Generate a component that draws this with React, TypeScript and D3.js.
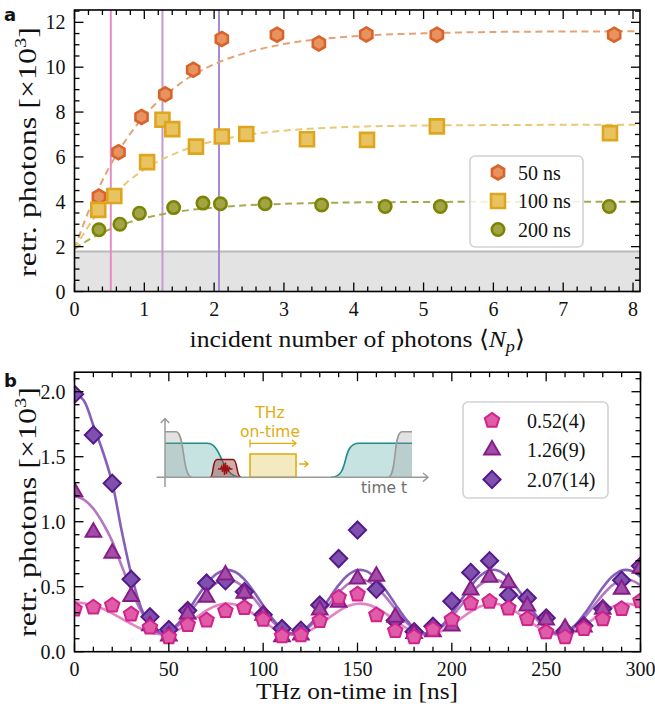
import React from "react";
import * as d3 from "d3";

const SERIF = "'Liberation Serif','Times New Roman',serif";
const SANS = "'DejaVu Sans','Open Sans',sans-serif";

// ---------------- panel a: data ----------------
const legendA = ["50 ns", "100 ns", "200 ns"];
const photons50 = [0.35, 0.63, 0.96, 1.3, 1.7, 2.11, 2.9, 3.5, 4.18, 5.19, 7.73];
const retr50 = [4.23, 6.21, 7.78, 8.79, 9.89, 11.26, 11.45, 11.06, 11.46, 11.45, 11.45];
const photons100 = [0.34, 0.57, 1.04, 1.26, 1.4, 1.74, 2.11, 2.46, 3.33, 4.19, 5.19, 7.67];
const retr100 = [3.64, 4.26, 5.77, 7.66, 7.24, 6.46, 6.91, 7.02, 6.79, 6.76, 7.36, 7.06];
const photons200 = [0.35, 0.65, 0.93, 1.42, 1.84, 2.09, 2.73, 3.54, 4.45, 5.24, 7.66];
const retr200 = [2.75, 3.0, 3.49, 3.74, 3.94, 3.91, 3.91, 3.86, 3.79, 3.79, 3.79];
// fitted saturation curves
const fitPhotons = [0, 0.25, 0.5, 0.75, 1, 1.5, 2, 2.5, 3, 4, 5, 6, 7, 8.1];
const fit50 = [1.9, 3.94, 5.55, 6.82, 7.83, 9.24, 10.13, 10.68, 11.03, 11.38, 11.51, 11.57, 11.59, 11.6];
const fit100 = [1.9, 3.14, 4.11, 4.86, 5.44, 6.23, 6.71, 7.0, 7.17, 7.34, 7.4, 7.42, 7.43, 7.43];
const fit200 = [1.9, 2.39, 2.76, 3.05, 3.27, 3.57, 3.74, 3.85, 3.91, 3.97, 3.99, 4.0, 4.0, 4.0];
const markedPhotons = [0.52, 1.26, 2.07];
const backgroundLevel = 1.78;
const xTicksA = [0, 1, 2, 3, 4, 5, 6, 7, 8];
const yTicksA = [0, 2, 4, 6, 8, 10, 12];

// ---------------- panel b: data ----------------
const legendB = ["0.52(4)", "1.26(9)", "2.07(14)"];
const onTime = [0, 10, 20, 30, 40, 50, 60, 70, 80, 90, 100, 110, 120, 130, 140, 150, 160, 170, 180, 190, 200, 210, 220, 230, 240, 250, 260, 270, 280, 290, 300];
const retrLow = [0.326, 0.341, 0.357, 0.288, 0.187, 0.113, 0.207, 0.242, 0.314, 0.338, 0.247, 0.12, 0.128, 0.238, 0.417, 0.442, 0.282, 0.16, 0.112, 0.17, 0.247, 0.372, 0.385, 0.334, 0.253, 0.15, 0.112, 0.176, 0.25, 0.33, 0.39];
const retrMid = [1.231, 0.918, 0.757, 0.425, 0.2, 0.12, 0.29, 0.418, 0.59, 0.45, 0.28, 0.115, 0.128, 0.32, 0.38, 0.56, 0.58, 0.265, 0.14, 0.154, 0.198, 0.475, 0.572, 0.531, 0.351, 0.244, 0.18, 0.19, 0.326, 0.48, 0.641];
const retrHigh = [1.98, 1.667, 1.295, 0.557, 0.268, 0.17, 0.316, 0.528, 0.545, 0.462, 0.285, 0.178, 0.165, 0.359, 0.716, 0.936, 0.48, 0.24, 0.154, 0.195, 0.388, 0.61, 0.7, 0.436, 0.413, 0.26, 0.16, 0.2, 0.33, 0.55, 0.66];
const fitTime = d3.range(0, 301, 5);
const fitLow = [0.38, 0.372, 0.355, 0.33, 0.295, 0.255, 0.215, 0.178, 0.15, 0.135,
  0.139, 0.168, 0.214, 0.267, 0.317, 0.353, 0.37, 0.363, 0.334, 0.288,
  0.235, 0.185, 0.148, 0.131, 0.136, 0.165, 0.21, 0.262, 0.312, 0.351,
  0.369, 0.364, 0.336, 0.293, 0.241, 0.19, 0.151, 0.131, 0.135, 0.162,
  0.206, 0.257, 0.308, 0.348, 0.368, 0.365, 0.339, 0.296, 0.246, 0.195,
  0.154, 0.132, 0.134, 0.159, 0.201, 0.251, 0.303, 0.345, 0.367, 0.366, 0.344];
const fitMid = [1.2, 1.17, 1.1, 0.99, 0.85, 0.66, 0.48, 0.32, 0.215, 0.16,
  0.15, 0.202, 0.283, 0.375, 0.462, 0.526, 0.554, 0.542, 0.491, 0.412,
  0.319, 0.232, 0.167, 0.136, 0.146, 0.197, 0.275, 0.366, 0.454, 0.521,
  0.553, 0.545, 0.496, 0.42, 0.329, 0.24, 0.172, 0.138, 0.144, 0.191,
  0.267, 0.357, 0.446, 0.516, 0.552, 0.547, 0.5, 0.426, 0.338, 0.249,
  0.177, 0.139, 0.142, 0.185, 0.259, 0.348, 0.438, 0.51, 0.55, 0.549, 0.51];
const fitHigh = [2.0, 1.93, 1.74, 1.54, 1.3, 0.93, 0.6, 0.35, 0.2, 0.145,
  0.158, 0.218, 0.312, 0.42, 0.522, 0.596, 0.629, 0.615, 0.556, 0.463,
  0.355, 0.253, 0.177, 0.142, 0.153, 0.212, 0.303, 0.41, 0.512, 0.59,
  0.628, 0.618, 0.561, 0.472, 0.366, 0.263, 0.183, 0.143, 0.15, 0.205,
  0.294, 0.399, 0.503, 0.584, 0.627, 0.621, 0.566, 0.48, 0.377, 0.273,
  0.189, 0.145, 0.148, 0.199, 0.285, 0.388, 0.494, 0.578, 0.625, 0.623, 0.577];
const xTicksB = [0, 50, 100, 150, 200, 250, 300];
const yTicksB = [0, 0.5, 1.0, 1.5, 2.0];

// ---------------- scales ----------------
const xA = d3.scaleLinear().domain([0, 8.1]).range([74.5, 640]);
const yA = d3.scaleLinear().domain([0, 12.55]).range([291.5, 10]);
const xB = d3.scaleLinear().domain([0, 300]).range([74.5, 640.5]);
const yB = d3.scaleLinear().domain([0, 2.15]).range([651.7, 372.2]);

// ---------------- marker shapes ----------------
function poly(n: number, R: number, rot = -90): string {
  const pts = d3.range(n).map((k) => {
    const a = ((rot + (k * 360) / n) * Math.PI) / 180;
    return [R * Math.cos(a), R * Math.sin(a)];
  });
  return "M" + pts.map((p) => p[0].toFixed(2) + "," + p[1].toFixed(2)).join("L") + "Z";
}
const SHAPES: Record<string, string> = {
  hex: poly(6, 7),
  square: "M-7,-7L7,-7L7,7L-7,7Z",
  circle: d3.symbol().type(d3.symbolCircle).size(Math.PI * 6.2 * 6.2)() as string,
  pent: poly(5, 7.6),
  tri: poly(3, 9),
  diam: "M0,-8.6L8.6,0L0,8.6L-8.6,0Z",
};

function Marker({ x, y, shape, fill, stroke, sw }: any) {
  return (
    <path d={SHAPES[shape]} transform={`translate(${x},${y})`} fill={fill} stroke={stroke}
      strokeWidth={sw} strokeLinejoin="miter" />
  );
}

// ---------------- frame & ticks ----------------
function Frame({ xs, ys, xMajor, xMinor, yMajor, yMinor, xFmt, yFmt, xLabelY }: any) {
  const [x0, x1] = xs.range();
  const [y0, y1] = ys.range();
  const MAJ = 9, MIN = 5;
  const lines: any[] = [];
  xMajor.forEach((v: number, i: number) => {
    const x = xs(v);
    lines.push(<line key={"xb" + i} x1={x} x2={x} y1={y0} y2={y0 - MAJ} />);
    lines.push(<line key={"xt" + i} x1={x} x2={x} y1={y1} y2={y1 + MAJ} />);
  });
  xMinor.forEach((v: number, i: number) => {
    const x = xs(v);
    lines.push(<line key={"xmb" + i} x1={x} x2={x} y1={y0} y2={y0 - MIN} />);
    lines.push(<line key={"xmt" + i} x1={x} x2={x} y1={y1} y2={y1 + MIN} />);
  });
  yMajor.forEach((v: number, i: number) => {
    const y = ys(v);
    lines.push(<line key={"yl" + i} x1={x0} x2={x0 + MAJ} y1={y} y2={y} />);
    lines.push(<line key={"yr" + i} x1={x1} x2={x1 - MAJ} y1={y} y2={y} />);
  });
  yMinor.forEach((v: number, i: number) => {
    const y = ys(v);
    lines.push(<line key={"yml" + i} x1={x0} x2={x0 + MIN} y1={y} y2={y} />);
    lines.push(<line key={"ymr" + i} x1={x1} x2={x1 - MIN} y1={y} y2={y} />);
  });
  return (
    <g>
      <g stroke="#000" strokeWidth={1.3}>{lines}</g>
      <rect x={x0} y={y1} width={x1 - x0} height={y0 - y1} fill="none" stroke="#000" strokeWidth={1.6} />
      <g fontFamily={SERIF} fontSize={20} fill="#111">
        {xMajor.map((v: number, i: number) => (
          <text key={"tx" + i} x={xs(v)} y={xLabelY} textAnchor="middle">{xFmt(v)}</text>
        ))}
        {yMajor.map((v: number, i: number) => (
          <text key={"ty" + i} x={x0 - 9} y={ys(v) + 7} textAnchor="end">{yFmt(v)}</text>
        ))}
      </g>
    </g>
  );
}

function minors(lo: number, hi: number, step: number, majors: number[]) {
  return d3.range(lo, hi + 1e-9, step).filter((v) => !majors.some((m) => Math.abs(m - v) < 1e-6));
}

// ---------------- inset schematic ----------------
function Inset() {
  const gold = "#e0ad10";
  return (
    <g>
      {/* teal pulses */}
      <path d="M165,477.3 L165,443.3 L207,443.3 C223,443.3 220,477.3 241,477.3 Z" fill="#c6e3e2" />
      <path d="M165,443.3 L207,443.3 C223,443.3 220,477.3 241,477.3" fill="none" stroke="#1a8c8a" strokeWidth={1.6} />
      <path d="M331,477.3 C351,477.3 340,443.3 359,443.3 L412,443.3 L412,477.3 Z" fill="#c6e3e2" />
      <path d="M331,477.3 C351,477.3 340,443.3 359,443.3 L412,443.3" fill="none" stroke="#1a8c8a" strokeWidth={1.6} />
      {/* gray pulses */}
      <path d="M165,477.3 L165,431.7 L176,431.7 C185,431.7 182,477.3 192,477.3 Z" fill="rgba(150,150,150,0.28)" />
      <path d="M165,431.7 L176,431.7 C185,431.7 182,477.3 192,477.3" fill="none" stroke="#9a9a9a" strokeWidth={1.6} />
      <path d="M388,477.3 C397,477.3 393,431.7 402,431.7 L412,431.7 L412,477.3 Z" fill="rgba(150,150,150,0.28)" />
      <path d="M388,477.3 C397,477.3 393,431.7 402,431.7 L412,431.7" fill="none" stroke="#9a9a9a" strokeWidth={1.6} />
      {/* red pulse */}
      <path d="M210,477.3 C214,477.3 212,459.5 217,459.5 L233,459.5 C238,459.5 236,477.3 241,477.3 Z"
        fill="rgba(150,70,70,0.45)" stroke="#8c1212" strokeWidth={1.5} />
      <path d="M218,469 L220.5,469 L221.5,466.5 L222.5,472 L223.5,463.5 L224.5,475 L225.5,462.5 L226.5,474 L227.5,465 L228.5,471.5 L229.5,467.5 L230.5,469 L232.5,469"
        fill="none" stroke="#a01010" strokeWidth={1.3} />
      {/* THz box */}
      <rect x={250} y={454} width={46} height={23.3} fill="#f4eac2" stroke={gold} strokeWidth={1.6} />
      <path d="M299,464 L308,464 M304.5,461 L308,464 L304.5,467" fill="none" stroke={gold} strokeWidth={1.3} />
      <path d="M250,443.3 L296,443.3 M250,439.5 L250,447.5 M292,440 L296,443.3 L292,446.6" fill="none" stroke={gold} strokeWidth={1.3} />
      <text x={270} y={417.5} textAnchor="middle" fontFamily={SANS} fontSize={15.5} fill={gold}>THz</text>
      <text x={270} y={437} textAnchor="middle" fontFamily={SANS} fontSize={15.5} fill={gold}>on-time</text>
      {/* axes */}
      <path d="M165,487 L165,418.5 M160.8,423 L165,418.5 L169.2,423" fill="none" stroke="#9a9a9a" strokeWidth={1.5} />
      <path d="M156.5,477.3 L428,477.3 M423,473 L428,477.3 L423,481.6" fill="none" stroke="#9a9a9a" strokeWidth={1.5} />
      <text x={361} y={493} fontFamily={SANS} fontSize={15.5} fill="#6e6e6e">time t</text>
    </g>
  );
}

export default function App() {
  const lineA = (xsA: number[], ysA: number[]) =>
    d3.line<number>().x((_, i) => xA(xsA[i])).y((v) => yA(v)).curve(d3.curveMonotoneX)(ysA) as string;
  const lineB = (ysB: number[]) =>
    d3.line<number>().x((_, i) => xB(fitTime[i])).y((v) => yB(v)).curve(d3.curveCatmullRom)(ysB) as string;

  const seriesA = [
    { xs: photons50, ys: retr50, fit: fit50, shape: "hex", fill: "#e6935f", stroke: "#d9642b", line: "#e5a274" },
    { xs: photons100, ys: retr100, fit: fit100, shape: "square", fill: "#e9c262", stroke: "#dea61f", line: "#eac878" },
    { xs: photons200, ys: retr200, fit: fit200, shape: "circle", fill: "#a2a545", stroke: "#7c8404", line: "#a7a94f" },
  ];
  const vColors = ["#e58cc7", "#c39bce", "#a88bd0"];

  const seriesB = [
    { ys: retrLow, fit: fitLow, shape: "pent", fill: "#e05ca8", stroke: "#d0238c", line: "#e27abf" },
    { ys: retrMid, fit: fitMid, shape: "tri", fill: "#a24ea8", stroke: "#871c88", line: "#ad6cbd" },
    { ys: retrHigh, fit: fitHigh, shape: "diam", fill: "#7f50ae", stroke: "#54198a", line: "#7b52b2" },
  ];

  const xMinA = minors(0, 8.1, 0.2, xTicksA);
  const yMinA = minors(0, 12.5, 0.5, yTicksA);
  const xMinB = minors(0, 300, 10, xTicksB);
  const yMinB = minors(0, 2.1, 0.1, yTicksB);

  const yLabel = (cy: number) => (
    <text transform={`translate(36,${cy}) rotate(-90)`} textAnchor="middle" fontFamily={SERIF} fontSize={25} fill="#111"
      textLength={250} lengthAdjust="spacingAndGlyphs">
      retr. photons [×10<tspan fontSize={16} dy={-10}>3</tspan><tspan dy={10}>]</tspan>
    </text>
  );

  return (
    <svg width={655} height={708} viewBox="0 0 655 708"
      style={{ position: "absolute", left: 0, top: 0, background: "#fff" }}>
      <defs>
        <clipPath id="clipA"><rect x={74.5} y={10} width={565.5} height={281.5} /></clipPath>
        <clipPath id="clipB"><rect x={74.5} y={372.2} width={566} height={279.5} /></clipPath>
      </defs>
      <rect width={655} height={708} fill="#fff" />

      {/* ---------- panel a ---------- */}
      <g clipPath="url(#clipA)">
        <rect x={xA(0)} y={yA(backgroundLevel)} width={xA(8.1) - xA(0)} height={yA(0) - yA(backgroundLevel)} fill="#e3e3e3" />
        <line x1={xA(0)} x2={xA(8.1)} y1={yA(backgroundLevel)} y2={yA(backgroundLevel)} stroke="#b9b9b9" strokeWidth={2} />
        {markedPhotons.map((v, i) => (
          <line key={"v" + i} x1={xA(v)} x2={xA(v)} y1={yA(0)} y2={yA(12.55)} stroke={vColors[i]} strokeWidth={2} />
        ))}
        {seriesA.map((s, si) => (
          <g key={"sa" + si}>
            <path d={lineA(fitPhotons, s.fit)} fill="none" stroke={s.line} strokeWidth={2} strokeDasharray="7 4.5" />
            {s.xs.map((v, i) => (
              <Marker key={i} x={xA(v)} y={yA(s.ys[i])} shape={s.shape} fill={s.fill} stroke={s.stroke} sw={2.6} />
            ))}
          </g>
        ))}
      </g>
      <Frame xs={xA} ys={yA} xMajor={xTicksA} xMinor={xMinA} yMajor={yTicksA} yMinor={yMinA}
        xFmt={(v: number) => String(v)} yFmt={(v: number) => String(v)} xLabelY={316} />
      {/* legend a */}
      <rect x={470} y={156} width={113} height={91} rx={5} fill="rgba(255,255,255,0.82)" stroke="#d2d2d2" strokeWidth={1.6} />
      {seriesA.map((s, i) => (
        <g key={"la" + i}>
          <Marker x={498} y={172.5 + i * 28.5} shape={s.shape} fill={s.fill} stroke={s.stroke} sw={2.6} />
          <text x={518} y={179.5 + i * 28.5} fontFamily={SERIF} fontSize={20} fill="#111">{legendA[i]}</text>
        </g>
      ))}
      <text x={357} y={347} textAnchor="middle" fontFamily={SERIF} fontSize={24} fill="#111"
        textLength={335} lengthAdjust="spacingAndGlyphs">
        incident number of photons ⟨<tspan fontStyle="italic">N</tspan><tspan fontStyle="italic" fontSize={17} dy={5}>p</tspan><tspan dy={-5}>⟩</tspan>
      </text>
      {yLabel(152)}
      <text x={4} y={21} fontFamily={SANS} fontWeight="bold" fontSize={18} fill="#111">a</text>

      {/* ---------- panel b ---------- */}
      <g clipPath="url(#clipB)">
        {seriesB.map((s, si) => (
          <path key={"fb" + si} d={lineB(s.fit)} fill="none" stroke={s.line} strokeWidth={2.6} opacity={0.92} />
        ))}
        {[2, 1, 0].map((si) => {
          const s = seriesB[si];
          return (
            <g key={"sb" + si}>
              {onTime.map((t, i) => (
                <Marker key={i} x={xB(t)} y={yB(s.ys[i])} shape={s.shape} fill={s.fill} stroke={s.stroke} sw={2} />
              ))}
            </g>
          );
        })}
      </g>
      <Inset />
      <Frame xs={xB} ys={yB} xMajor={xTicksB} xMinor={xMinB} yMajor={yTicksB} yMinor={yMinB}
        xFmt={(v: number) => String(v)} yFmt={(v: number) => v.toFixed(1)} xLabelY={676} />
      {/* legend b */}
      <rect x={463} y={402} width={145} height={96} rx={5} fill="rgba(255,255,255,0.82)" stroke="#d2d2d2" strokeWidth={1.6} />
      {seriesB.map((s, i) => (
        <g key={"lb" + i}>
          <Marker x={492} y={420.5 + i * 29.5} shape={s.shape} fill={s.fill} stroke={s.stroke} sw={2} />
          <text x={527} y={427.5 + i * 29.5} fontFamily={SERIF} fontSize={20} fill="#111">{legendB[i]}</text>
        </g>
      ))}
      <text x={357} y={699} textAnchor="middle" fontFamily={SERIF} fontSize={24} fill="#111"
        textLength={202} lengthAdjust="spacingAndGlyphs">THz on-time in [ns]</text>
      {yLabel(512)}
      <text x={4} y={387} fontFamily={SANS} fontWeight="bold" fontSize={18} fill="#111">b</text>
    </svg>
  );
}
